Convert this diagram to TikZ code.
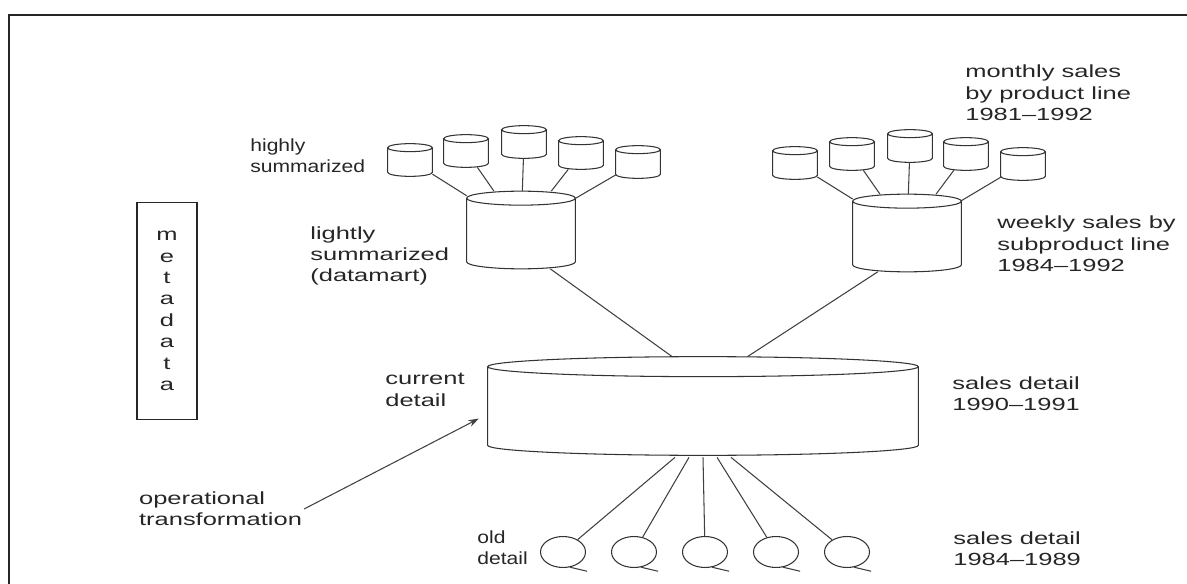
\documentclass[tikz,border=0pt]{standalone}
\usepackage{fontspec}
\setmainfont{Liberation Sans}[FakeStretch=1.45]
\newfontfamily\narrowsans{Liberation Sans}[FakeStretch=1.2]
\usetikzlibrary{shapes.geometric, calc, arrows.meta}

% outline of a stored-data cylinder round a named node: node, end radius
\newcommand{\dbdraw}[2]{%
  \draw[dbline] let \p1=($(#1.east)-(#1.west)$) in
    ($(#1.north west)+(0cm,-#2)$) -- ($(#1.south west)+(0cm,#2)$)
    arc[start angle=180, end angle=360, x radius=0.5*\x1, y radius=#2]
    -- ($(#1.north east)+(0cm,-#2)$)
    ($(#1.north)+(0cm,-#2)$) ellipse[x radius=0.5*\x1, y radius=#2];
}

\begin{document}
\begin{tikzpicture}[
    x=0.02cm, y=-0.02cm,
    every node/.style={font=\fontsize{10}{12.2}\selectfont, text=black!85},
    db/.style={rectangle, inner sep=0pt, draw=none},
    sdb/.style={db, minimum width=0.88cm, minimum height=0.64cm},
    mdb/.style={db, minimum width=2.16cm, minimum height=1.54cm},
    bigdb/.style={db, minimum width=8.6cm, minimum height=1.96cm},
    dbline/.style={draw=black!80, line width=0.6pt},
    tape/.style={ellipse, draw=black!80, line width=0.6pt, inner sep=0pt,
                 minimum width=0.9cm, minimum height=0.62cm},
    edge/.style={draw=black!75, line width=0.6pt},
    lbl/.style={align=left, anchor=west, inner sep=0pt},
    frame/.style={draw=black!85, line width=1.2pt}
]
    \useasboundingbox (0,0) rectangle (1187,584);
    % page frame
    \draw[frame] (9,584) -- (9,15) -- (1187,15);
    % metadata box
    \node[draw=black!85, line width=0.7pt, minimum width=1.2cm, minimum height=4.34cm,
          align=center, inner sep=0pt] (meta) at (167,311)
        {m\\e\\t\\a\\d\\a\\t\\a};
    % current detail
    \node[bigdb] (C) at (703,406) {};
    % lightly summarized
    \node[mdb] (L) at (521,230) {};
    \node[mdb] (R) at (907,233) {};
    % highly summarized
    \node[sdb] (ls1) at (410,160) {};
    \node[sdb] (ls2) at (466,151) {};
    \node[sdb] (ls3) at (524,142) {};
    \node[sdb] (ls4) at (581,153) {};
    \node[sdb] (ls5) at (638,162) {};
    \node[sdb] (rs1) at (795,163) {};
    \node[sdb] (rs2) at (852,154) {};
    \node[sdb] (rs3) at (910,146) {};
    \node[sdb] (rs4) at (966,154) {};
    \node[sdb] (rs5) at (1023,164) {};
    % cylinder outlines
    \dbdraw{C}{0.2cm}
    \dbdraw{L}{0.14cm}
    \dbdraw{R}{0.14cm}
    \dbdraw{ls1}{0.08cm}
    \dbdraw{ls2}{0.08cm}
    \dbdraw{ls3}{0.08cm}
    \dbdraw{ls4}{0.08cm}
    \dbdraw{ls5}{0.08cm}
    \dbdraw{rs1}{0.08cm}
    \dbdraw{rs2}{0.08cm}
    \dbdraw{rs3}{0.08cm}
    \dbdraw{rs4}{0.08cm}
    \dbdraw{rs5}{0.08cm}
    % old detail
    \node[tape] (o1) at (563,552) {};
    \node[tape] (o2) at (634,552) {};
    \node[tape] (o3) at (705,552) {};
    \node[tape] (o4) at (776,552) {};
    \node[tape] (o5) at (847,552) {};
    % edges
    \draw[edge] (ls1) -- (L);
    \draw[edge] (ls2) -- (L);
    \draw[edge] (ls3) -- (L);
    \draw[edge] (ls4) -- (L);
    \draw[edge] (ls5) -- (L);
    \draw[edge] (rs1) -- (R);
    \draw[edge] (rs2) -- (R);
    \draw[edge] (rs3) -- (R);
    \draw[edge] (rs4) -- (R);
    \draw[edge] (rs5) -- (R);
    \draw[edge] (L.-53) -- (C.122);
    \draw[edge] (R.233) -- (C.48);
    \draw[edge] (o1) -- ($(C.south)+(-28,2)$);
    \draw[edge] (o2) -- ($(C.south)+(-14,2)$);
    \draw[edge] (o3) -- ($(C.south)+(0,2)$);
    \draw[edge] (o4) -- ($(C.south)+(14,2)$);
    \draw[edge] (o5) -- ($(C.south)+(28,2)$);
    \draw[edge] (o1.-65) -- ++(17,4);
    \draw[edge] (o2.-65) -- ++(17,4);
    \draw[edge] (o3.-65) -- ++(17,4);
    \draw[edge] (o4.-65) -- ++(17,4);
    \draw[edge] (o5.-65) -- ++(17,4);
    % labels
    \node[lbl, font=\narrowsans\fontsize{10}{12.2}\selectfont] (hs) at (250,156) {highly\\summarized};
    \node[lbl] (lsm) at (310,256) {lightly\\summarized\\(datamart)};
    \node[lbl] (ms) at (965,93) {monthly sales\\by product line\\1981--1992};
    \node[lbl] (ws) at (997,244) {weekly sales by\\subproduct line\\1984--1992};
    \node[lbl] (cd) at (385,390) {current\\detail};
    \node[lbl] (sd) at (952,394) {sales detail\\1990--1991};
    \node[lbl, inner sep=1pt] (optr) at (137,509) {operational\\transformation};
    \node[lbl, font=\narrowsans\fontsize{10}{12.2}\selectfont] (od) at (477,548) {old\\detail};
    \node[lbl] (sdo) at (953,549) {sales detail\\1984--1989};
    % operational transformation arrow
    \draw[edge, -{Stealth[length=6pt, width=4pt]}, shorten >=0.2cm]
        (optr.east) -- ($(C.west)+(0,8)$);
\end{tikzpicture}
\end{document}
